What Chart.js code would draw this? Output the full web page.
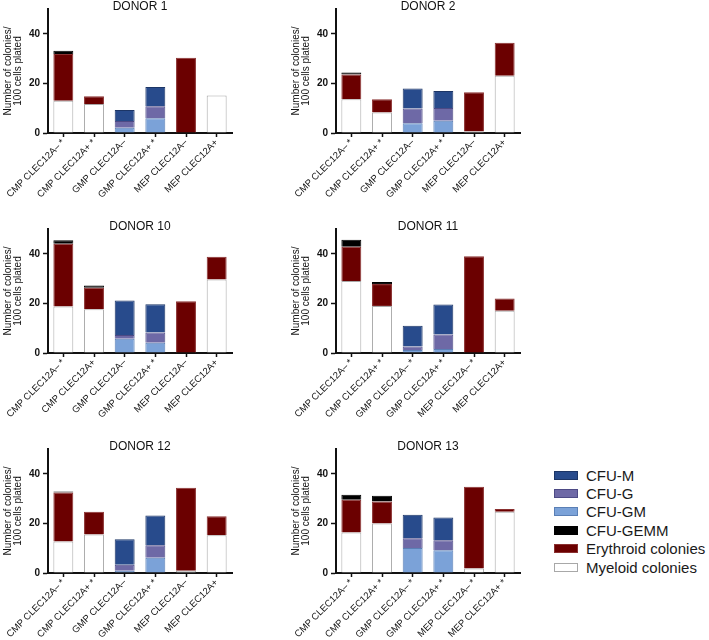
<!DOCTYPE html>
<html>
<head>
<meta charset="utf-8">
<script src="https://cdn.jsdelivr.net/npm/chart.js@4"></script>
<style>
  body { margin: 0; background: #fff; width: 709px; height: 640px; position: relative; overflow: hidden; font-family: 'Liberation Sans', Arial, sans-serif; }
  .panel { position: absolute; width: 288px; height: 228px; }
  #legend { position: absolute; left: 554px; top: 466px; }
  .item { height: 18.4px; display: flex; align-items: center; font-size: 15px; color: #1a1a1a; white-space: nowrap; }
  .sw { width: 22px; height: 7px; margin-right: 8px; border: 1px solid; }
</style>
</head>
<body>
<div id="legend"></div>
<script>
const donors = ['DONOR 1', 'DONOR 2', 'DONOR 10', 'DONOR 11', 'DONOR 12', 'DONOR 13'];
const cellTypes = ['CMP CLEC12A–', 'CMP CLEC12A+', 'GMP CLEC12A–', 'GMP CLEC12A+', 'MEP CLEC12A–', 'MEP CLEC12A+'];
// 1 = category label carries a *
const stars = [
  [1, 1, 0, 1, 0, 0],
  [1, 1, 0, 1, 0, 0],
  [1, 0, 0, 1, 0, 0],
  [1, 1, 1, 1, 1, 0],
  [1, 1, 0, 1, 0, 0],
  [1, 1, 1, 1, 1, 1]
];
const yTicks = [0, 20, 40];

// one row per donor, one value per cell type
const myeloid = [
  [13.0, 11.7, null, null, null, 15.1],
  [13.6, 8.3, null, null, 0.6, 23.1],
  [18.7, 17.6, null, null, null, 29.6],
  [29.0, 19.0, null, null, null, 17.0],
  [12.7, 15.5, null, null, 0.9, 15.2],
  [16.3, 20.0, null, null, 1.8, 24.7]
];
const erythroid = [
  [18.9, 3.1, null, null, 30.3, null],
  [10.0, 5.3, null, null, 15.8, 13.3],
  [25.4, 8.7, null, null, 20.9, 9.2],
  [13.8, 8.8, null, null, 39.0, 5.0],
  [19.8, 9.2, null, null, 33.5, 7.7],
  [13.2, 8.8, null, null, 33.0, 1.1]
];
const cfuGEMM = [
  [1.3, null, null, null, null, null],
  [0.8, null, null, null, null, null],
  [1.4, 0.9, null, null, null, null],
  [2.9, 0.8, null, null, null, null],
  [0.4, null, null, null, null, null],
  [2.1, 2.3, null, null, null, null]
];
const cfuGM = [
  [null, null, 2.1, 5.9, null, null],
  [null, null, 3.9, 4.9, null, null],
  [null, null, 5.7, 4.1, null, null],
  [null, null, 1.2, 1.6, null, null],
  [null, null, 0.9, 6.1, null, null],
  [null, null, 10.1, 9.2, null, null]
];
const cfuG = [
  [null, null, 2.7, 4.9, null, null],
  [null, null, 6.0, 5.2, null, null],
  [null, null, 1.6, 4.2, null, null],
  [null, null, 1.4, 5.9, null, null],
  [null, null, 2.4, 5.1, null, null],
  [null, null, 3.9, 4.0, null, null]
];
const cfuM = [
  [null, null, 4.5, 7.7, null, null],
  [null, null, 8.0, 6.8, null, null],
  [null, null, 13.9, 11.4, null, null],
  [null, null, 8.4, 12.1, null, null],
  [null, null, 10.3, 12.0, null, null],
  [null, null, 9.5, 9.2, null, null]
];

// bottom of the stack first
const series = [
  { label: 'Myeloid colonies', data: myeloid, fill: '#ffffff', line: '#a8a8a8' },
  { label: 'Erythroid colonies', data: erythroid, fill: '#6b0000', line: '#8a3030' },
  { label: 'CFU-GEMM', data: cfuGEMM, fill: '#000000', line: '#000000' },
  { label: 'CFU-GM', data: cfuGM, fill: '#7ba2d8', line: '#5a7fb5' },
  { label: 'CFU-G', data: cfuG, fill: '#6e69a6', line: '#4d4a85' },
  { label: 'CFU-M', data: cfuM, fill: '#284b8c', line: '#1c3566' }
];

const FONT = "'Liberation Sans', Arial, sans-serif";
const INK = '#111';

donors.forEach((name, i) => {
  const div = document.createElement('div');
  div.className = 'panel';
  div.style.left = (i % 2) * 288 + 'px';
  div.style.top = Math.floor(i / 2) * 220 + 'px';
  const canvas = document.createElement('canvas');
  canvas.width = 288;
  canvas.height = 228;
  div.appendChild(canvas);
  document.body.appendChild(div);

  const labels = cellTypes.map((c, j) => stars[i][j] ? c + ' *' : c);

  new Chart(canvas, {
    type: 'bar',
    data: {
      labels: labels,
      datasets: series.map(s => ({
        label: s.label,
        data: s.data[i],
        backgroundColor: s.fill,
        borderColor: s.line,
        borderWidth: 1,
        barPercentage: 0.65,
        categoryPercentage: 1
      }))
    },
    options: {
      responsive: false,
      animation: false,
      layout: { padding: { left: 0, right: 56, top: 0, bottom: 0 } },
      plugins: {
        legend: { display: false },
        tooltip: { enabled: false },
        title: {
          display: true,
          text: name,
          color: INK,
          fullSize: false,
          font: { family: FONT, size: 12, weight: 'normal', lineHeight: 1 },
          padding: { top: 0, bottom: -3.5 }
        }
      },
      scales: {
        x: {
          stacked: true,
          grid: { offset: false, drawOnChartArea: false, tickLength: 4, tickWidth: 1.5, tickColor: INK },
          border: { color: INK, width: 2 },
          ticks: { color: INK, autoSkip: false, maxRotation: 45, minRotation: 45, padding: 0, font: { family: FONT, size: 9.5 } },
          afterFit: s => { s.height = 95; s.paddingLeft = 0; s.paddingRight = 0; }
        },
        y: {
          stacked: true,
          min: 0,
          max: 50,
          afterBuildTicks: s => { s.ticks = yTicks.map(v => ({ value: v })); },
          grid: { drawOnChartArea: false, tickLength: 5, tickWidth: 1.5, tickColor: INK },
          border: { color: INK, width: 2 },
          ticks: { color: INK, padding: 3, font: { family: FONT, size: 10, weight: 'bold' } },
          title: {
            display: true,
            text: ['Number of colonies/', '100 cells plated'],
            color: INK,
            font: { family: FONT, size: 10, lineHeight: 1.05 },
            padding: { top: 2.75, bottom: 0 }
          },
          afterFit: s => { s.width = 48; }
        }
      }
    }
  });
});

// legend, top entry = top of the stack
const legend = document.getElementById('legend');
series.slice().reverse().forEach(s => {
  const row = document.createElement('div');
  row.className = 'item';
  const sw = document.createElement('span');
  sw.className = 'sw';
  sw.style.background = s.fill;
  sw.style.borderColor = s.line;
  row.appendChild(sw);
  row.appendChild(document.createTextNode(s.label));
  legend.appendChild(row);
});
</script>
</body>
</html>
